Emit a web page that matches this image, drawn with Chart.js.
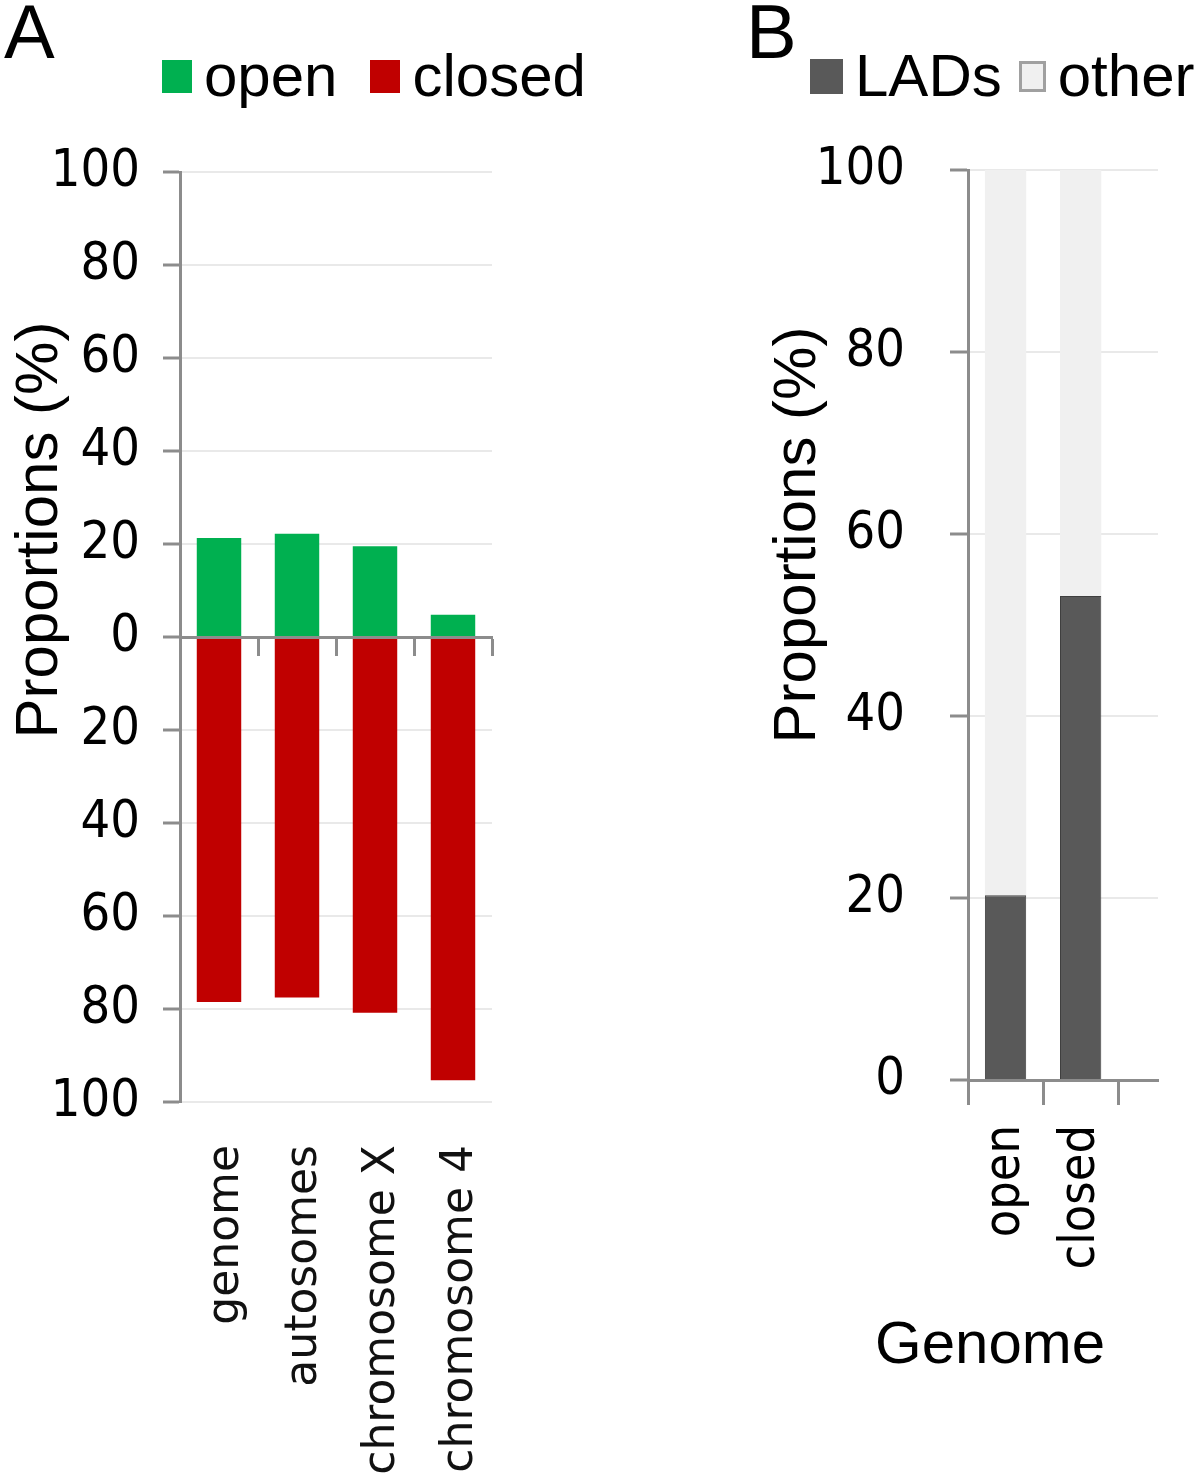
<!DOCTYPE html>
<html>
<head>
<meta charset="utf-8">
<script src="https://cdn.jsdelivr.net/npm/chart.js@4.4.1/dist/chart.umd.min.js"></script>
<style>
	body { margin: 0; background: #fff; width: 1200px; height: 1483px; position: relative; overflow: hidden;
		font-family: "Liberation Sans", Arial, sans-serif; color: #000; }
	canvas { position: absolute; top: 0; }
	.tag { position: absolute; top: -6px; font-size: 76px; line-height: 76px; }
	.legend { position: absolute; font-size: 60px; line-height: 60px; white-space: nowrap; display: flex; align-items: center; }
	.legend .box { display: inline-block; box-sizing: border-box; }
	.ytitle { position: absolute; width: 500px; height: 70px; line-height: 70px; font-size: 60px; text-align: center;
		transform: rotate(-90deg); white-space: nowrap; }
	.xtitle { position: absolute; font-size: 60px; line-height: 60px; }
</style>
</head>
<body>
<div class="tag" style="left:4px">A</div>
<div class="tag" style="left:746px">B</div>
<div class="legend" id="legendA" style="left:162px;top:46px"></div>
<div class="legend" id="legendB" style="left:810px;top:46px"></div>
<div class="ytitle" style="left:-213px;top:495px">Proportions (%)</div>
<div class="ytitle" style="left:545px;top:500px">Proportions (%)</div>
<div class="xtitle" style="left:875px;top:1313px">Genome</div>
<canvas id="chartA" width="600" height="1483" style="left:0"></canvas>
<canvas id="chartB" width="600" height="1483" style="left:600px"></canvas>
<script>
/* ---------- data ---------- */
const regionsA = ['genome', 'autosomes', 'chromosome X', 'chromosome 4'];
const openPct = [21.3, 22.2, 19.5, 4.8];
const closedPct = [78.5, 77.5, 80.8, 95.3];
const yTicksA = [100, 80, 60, 40, 20, 0, -20, -40, -60, -80, -100];

const groupsB = ['open', 'closed'];
const ladsPct = [20.3, 53.2];
const otherPct = [79.7, 46.8];
const yTicksB = [100, 80, 60, 40, 20, 0];

/* ---------- styles ---------- */
const axisGray = '#8c8c8c';
const gridGray = '#e9e9e9';
const narrow = '"Liberation Sans Narrow", "Arial Narrow", "DejaVu Sans Condensed", sans-serif';
const tickFont = { family: narrow, size: 52 };

function makeLegend(id, chart, gap) {
	const el = document.getElementById(id);
	chart.data.datasets.forEach((ds, i) => {
		const box = document.createElement('span');
		box.className = 'box';
		box.style.width = ds.legendBox[0] + 'px';
		box.style.height = ds.legendBox[1] + 'px';
		box.style.background = ds.backgroundColor;
		if (ds.legendBorder) box.style.border = '3px solid ' + ds.legendBorder;
		box.style.marginRight = '12px';
		if (i > 0) box.style.marginLeft = gap + 'px';
		const txt = document.createElement('span');
		txt.textContent = ds.label;
		el.appendChild(box);
		el.appendChild(txt);
	});
}

/* ---------- panel A ---------- */
const chartA = new Chart(document.getElementById('chartA'), {
	type: 'bar',
	data: {
		labels: regionsA,
		datasets: [
			{ label: 'open', data: openPct, backgroundColor: '#00b050', legendBox: [30, 33] },
			{ label: 'closed', data: closedPct.map(v => -v), backgroundColor: '#c00000', legendBox: [30, 33] }
		]
	},
	options: {
		responsive: false, animation: false,
		layout: { padding: { top: 172, right: 108, left: 0, bottom: 0 } },
		datasets: { bar: { barPercentage: 0.57, categoryPercentage: 1 } },
		plugins: { legend: { display: false }, tooltip: { enabled: false } },
		scales: {
			x: {
				position: { y: 0 }, stacked: true, offset: true,
				grid: { offset: true, drawOnChartArea: false, tickLength: 17, tickWidth: 3, tickColor: axisGray },
				border: { color: axisGray, width: 3, z: 1 },
				ticks: { display: false }
			},
			x2: {
				axis: 'x', type: 'category', labels: regionsA, position: 'bottom', offset: true,
				grid: { display: false, drawTicks: false }, border: { display: false },
				ticks: { minRotation: 90, maxRotation: 90, autoSkip: false, padding: 43, labelOffset: 8, color: '#111',
					font: { family: '"DejaVu Sans", sans-serif', size: 44 } },
				afterFit: s => { s.height = 381; }
			},
			y: {
				stacked: true, min: -100, max: 100,
				afterBuildTicks: a => { a.ticks = yTicksA.map(v => ({ value: v })); },
				afterFit: s => { s.width = 180; },
				grid: { color: gridGray, lineWidth: 2, tickColor: axisGray, tickWidth: 3, tickLength: 17 },
				border: { color: axisGray, width: 3 },
				ticks: { padding: 23, color: '#000', font: tickFont, callback: v => Math.abs(v) }
			}
		}
	}
});

/* ---------- panel B ---------- */
const chartB = new Chart(document.getElementById('chartB'), {
	type: 'bar',
	data: {
		labels: groupsB,
		datasets: [
			{ label: 'LADs', data: ladsPct, backgroundColor: '#595959', borderColor: '#3f3f3f', borderWidth: 1, legendBox: [33, 35] },
			{ label: 'other', data: otherPct, backgroundColor: '#f0f0f0', legendBorder: '#a0a0a0', legendBox: [27, 31] }
		]
	},
	options: {
		responsive: false, animation: false,
		layout: { padding: { top: 170, right: 42, left: 0, bottom: 0 } },
		datasets: { bar: { barPercentage: 0.55, categoryPercentage: 1 } },
		plugins: { legend: { display: false }, tooltip: { enabled: false } },
		scales: {
			x: {
				stacked: true, offset: true,
				// axis runs a bit past the last category, as in the original
				afterBuildTicks: a => { a._valueRange += 0.53; },
				afterFit: s => { s.height = 403; },
				grid: { offset: true, drawOnChartArea: false, tickLength: 25, tickWidth: 3, tickColor: axisGray },
				border: { color: axisGray, width: 3, z: 1 },
				ticks: { minRotation: 90, maxRotation: 90, padding: 20, color: '#000', font: { family: narrow, size: 50 } }
			},
			y: {
				stacked: true, min: 0, max: 100,
				afterBuildTicks: a => { a.ticks = yTicksB.map(v => ({ value: v })); },
				afterFit: s => { s.width = 368; },
				grid: { color: gridGray, lineWidth: 2, tickColor: axisGray, tickWidth: 3, tickLength: 18 },
				border: { color: axisGray, width: 3 },
				ticks: { padding: 45, color: '#000', font: tickFont }
			}
		}
	}
});

makeLegend('legendA', chartA, 33);
makeLegend('legendB', chartB, 17);
</script>
</body>
</html>
